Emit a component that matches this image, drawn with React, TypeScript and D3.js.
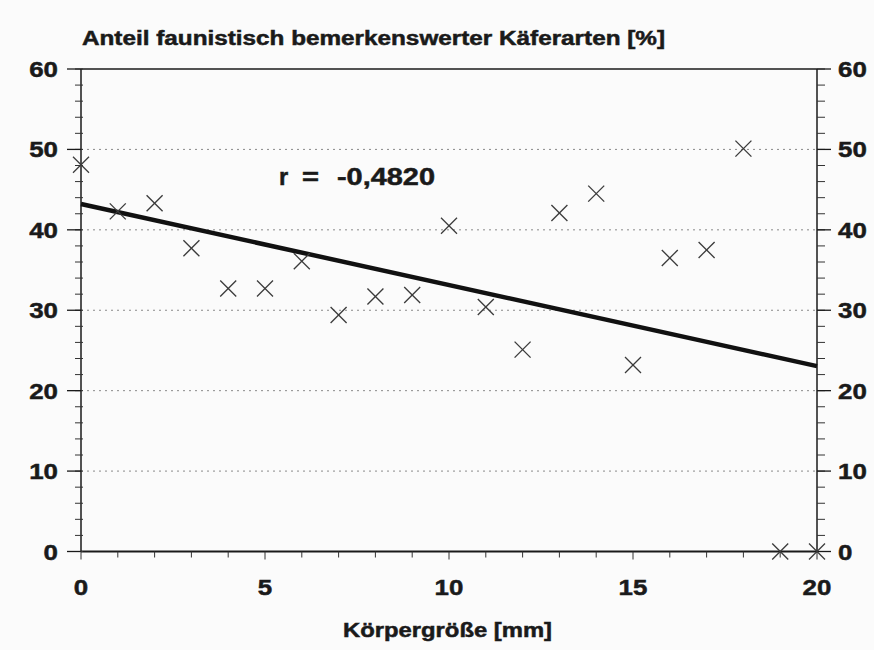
import React from "react";
import * as d3 from "d3";

const sizes = [0, 1, 2, 3, 4, 5, 6, 7, 8, 9, 10, 11, 12, 13, 14, 15, 16, 17, 18, 19, 20];
const shares = [48.1, 42.3, 43.3, 37.7, 32.7, 32.7, 36.1, 29.4, 31.7, 31.9, 40.5, 30.4, 25.1, 42.1, 44.5, 23.2, 36.5, 37.5, 50.1, 0, 0];
const yTicks = [0, 10, 20, 30, 40, 50, 60];
const xTicks = [0, 5, 10, 15, 20];
const gridValues = [10, 20, 30, 40, 50];
const titleText = "Anteil faunistisch bemerkenswerter Käferarten [%]";
const xLabelText = "Körpergröße [mm]";
const rName = "r";
const rEq = "=";
const rValue = "-0,4820";

export default function App() {
  const W = 874, H = 650;
  const x = d3.scaleLinear().domain([0, 20]).range([81, 817]);
  const y = d3.scaleLinear().domain([0, 60]).range([551.5, 69]);
  const n = sizes.length;
  const mx = d3.mean(sizes) as number;
  const my = d3.mean(shares) as number;
  let sxy = 0, sxx = 0;
  for (let i = 0; i < n; i++) {
    sxy += (sizes[i] - mx) * (shares[i] - my);
    sxx += (sizes[i] - mx) ** 2;
  }
  const slope = sxy / sxx;
  const icpt = my - slope * mx;
  const line = d3.line<number>().x((d) => x(d)).y((d) => y(icpt + slope * d));
  const minorY = d3.range(0, 61, 2);
  const minorX = d3.range(0, 21, 1);
  const font = "'Liberation Sans', Arial, Helvetica, sans-serif";
  const ink = "#1a1a1a";
  const cs = 8;
  const tStroke = { stroke: ink, strokeWidth: 0.5 };
  return (
    <svg width={W} height={H} style={{ position: "absolute", left: 0, top: 0, background: "#fbfbfb" }}>
      <rect x={0} y={0} width={W} height={H} fill="#fbfbfb" />
      {gridValues.map((v) => (
        <line key={"g" + v} x1={x(0)} x2={x(20)} y1={y(v)} y2={y(v)} stroke="#8a8a8a" strokeWidth={1} strokeDasharray="2,4" />
      ))}
      <line x1={x(0)} x2={x(20)} y1={y(60)} y2={y(60)} stroke={ink} strokeWidth={1.5} />
      <line x1={x(0)} x2={x(20)} y1={y(0)} y2={y(0)} stroke={ink} strokeWidth={2} />
      <line x1={x(0)} x2={x(0)} y1={y(0)} y2={y(60)} stroke={ink} strokeWidth={1.5} />
      <line x1={x(20)} x2={x(20)} y1={y(0)} y2={y(60)} stroke={ink} strokeWidth={1.5} />
      {minorY.map((v) => (
        <g key={"my" + v}>
          <line x1={x(0) - 6} x2={x(0) + 2} y1={y(v)} y2={y(v)} stroke="#333" strokeWidth={1} />
          <line x1={x(20)} x2={x(20) + 8} y1={y(v)} y2={y(v)} stroke="#333" strokeWidth={1} />
        </g>
      ))}
      {yTicks.map((v) => (
        <g key={"y" + v}>
          <line x1={x(0) - 14} x2={x(0)} y1={y(v)} y2={y(v)} stroke={ink} strokeWidth={1.3} />
          <line x1={x(20)} x2={x(20) + 14} y1={y(v)} y2={y(v)} stroke={ink} strokeWidth={1.3} />
          <text transform={`translate(${x(0) - 23},${y(v) + 8}) scale(1.15,1)`} textAnchor="end" fontFamily={font} fontWeight="bold" fontSize={22.5} fill={ink} {...tStroke}>
            {v}
          </text>
          <text transform={`translate(${x(20) + 21},${y(v) + 8}) scale(1.15,1)`} textAnchor="start" fontFamily={font} fontWeight="bold" fontSize={22.5} fill={ink} {...tStroke}>
            {v}
          </text>
        </g>
      ))}
      {minorX.map((v) => (
        <line key={"mx" + v} x1={x(v)} x2={x(v)} y1={y(0)} y2={y(0) + (v % 5 === 0 ? 8 : 6)} stroke="#333" strokeWidth={1} />
      ))}
      {xTicks.map((v) => (
        <text key={"x" + v} transform={`translate(${x(v)},${594.5}) scale(1.15,1)`} textAnchor="middle" fontFamily={font} fontWeight="bold" fontSize={22.5} fill={ink} {...tStroke}>
          {v}
        </text>
      ))}
      <path d={line([0, 20]) as string} fill="none" stroke="#111" strokeWidth={4.5} />
      {sizes.map((s, i) => (
        <g key={"p" + i} transform={`translate(${x(s)},${y(shares[i])})`} stroke="#3a3a3a" strokeWidth={1.3}>
          <line x1={-cs} y1={-cs} x2={cs} y2={cs} />
          <line x1={-cs} y1={cs} x2={cs} y2={-cs} />
        </g>
      ))}
      <text x={82} y={45} fontFamily={font} fontWeight="bold" fontSize={20} fill={ink} {...tStroke} textLength={583} lengthAdjust="spacingAndGlyphs">
        {titleText}
      </text>
      <text x={343} y={637} fontFamily={font} fontWeight="bold" fontSize={20} fill={ink} {...tStroke} textLength={209} lengthAdjust="spacingAndGlyphs">
        {xLabelText}
      </text>
      <g fontFamily={font} fontWeight="bold" fontSize={23.5} fill={ink} {...tStroke}>
        <text x={279} y={185}>{rName}</text>
        <text x={302} y={185} textLength={17} lengthAdjust="spacingAndGlyphs">{rEq}</text>
        <text x={337} y={185} textLength={98} lengthAdjust="spacingAndGlyphs">{rValue}</text>
      </g>
    </svg>
  );
}
